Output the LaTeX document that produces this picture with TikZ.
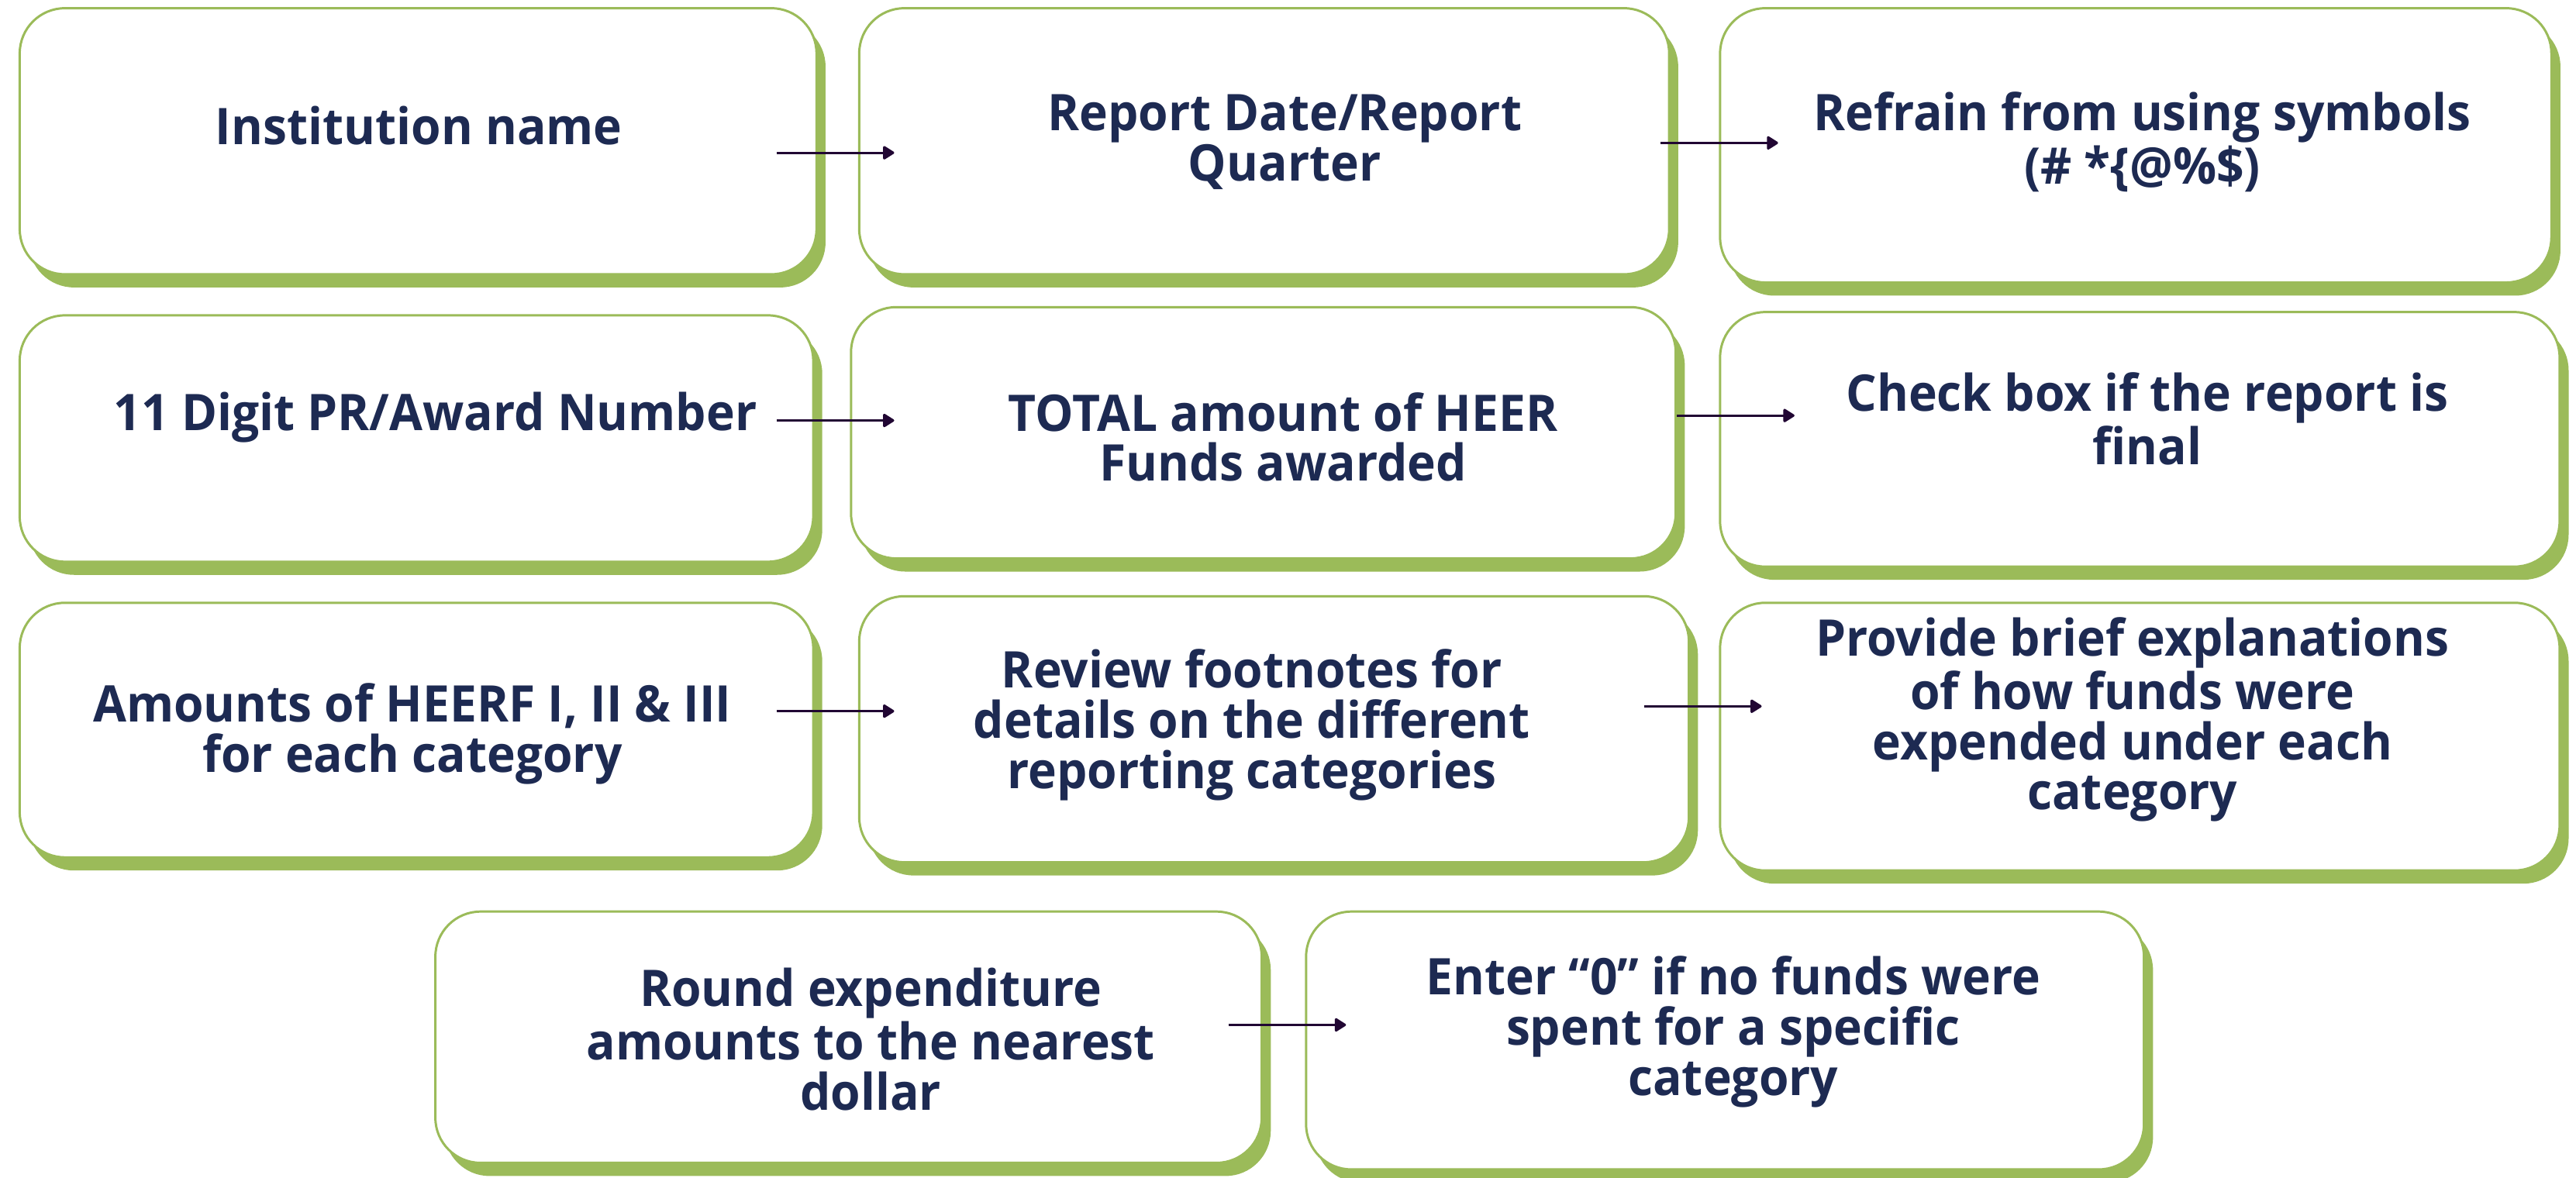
\documentclass[tikz,border=0pt]{standalone}
\usepackage{fontspec}
\setmainfont{Open Sans}[FakeStretch=0.956]
\usetikzlibrary{arrows.meta}
\usetikzlibrary{shadows}
\definecolor{leaf}{RGB}{155,187,89}
\definecolor{navy}{RGB}{29,42,82}
\definecolor{plum}{RGB}{33,6,51}

\begin{document}
\begin{tikzpicture}[x=0.02cm, y=-0.02cm,
	box/.style 2 args={rectangle, rounded corners=0.55cm, draw=leaf, line width=0.8pt, fill=white, inner sep=0pt, minimum width=#1*0.02cm, minimum height=#2*0.02cm, general shadow={fill=leaf, shadow xshift=0.11cm, shadow yshift=-0.16cm}},
	txt/.style={align=center, anchor=base, inner sep=0pt, text=navy, font=\bfseries\fontsize{17.5}{17.4}\selectfont},
	link/.style={-{Triangle[length=0.15cm, width=0.18cm, round]}, draw=plum, line width=0.85pt}]
	\useasboundingbox (0,0) rectangle (1568,717);
	%Row 1
	\node [box={485}{162}] (inst) at (254.5,86) {};
	\node [box={493}{162}] (date) at (769.5,86) {};
	\node [box={506}{167}] (symb) at (1300,88.5) {};
	\node [txt] (inst-t) at (255,88) {Institution name};
	\node [txt] (date-t) at (782,110) {Report Date/Report\\Quarter};
	\node [txt] (symb-t) at (1304,112) {Refrain from using symbols\\(\# *\{@\%\$)};
	%Row 2
	\node [box={483}{150}] (award) at (253.5,267) {};
	\node [box={502}{153}] (total) at (769,263.5) {};
	\node [box={511}{155}] (final) at (1302.5,267.5) {};
	\node [txt] (award-t) at (265,262) {11 Digit PR/Award Number};
	\node [txt] (total-t) at (781,293) {TOTAL amount of HEER\\Funds awarded};
	\node [txt] (final-t) at (1307,283) {Check box if the report is\\final};
	%Row 3
	\node [box={483}{155}] (amts) at (253.5,444.5) {};
	\node [box={505}{162}] (notes) at (775.5,444) {};
	\node [box={511}{163}] (expl) at (1302.5,448.5) {};
	\node [txt] (amts-t) at (251,470) {Amounts of HEERF I, II \& III\\for each category};
	\node [txt] (notes-t) at (762,480) {Review footnotes for\\details on the different\\reporting categories};
	\node [txt] (expl-t) at (1298,493) {Provide brief explanations\\of how funds were\\expended under each\\category};
	%Row 4
	\node [box={503}{153}] (round) at (516.5,631.5) {};
	\node [box={510}{157}] (zero) at (1050,633.5) {};
	\node [txt] (round-t) at (530,676) {Round expenditure\\amounts to the nearest\\dollar};
	\node [txt] (zero-t) at (1055,667) {Enter “0” if no funds were\\spent for a specific\\category};
	%Arrows
	\draw [link] ([shift={(-25,7)}]inst.east) -- ([shift={(22,7)}]date.west);
	\draw [link] ([shift={(-6,1)}]date.east) -- ([shift={(36,-1.5)}]symb.west);
	\draw [link] ([shift={(-23,-11)}]award.east) -- ([shift={(27,-7.5)}]total.west);
	\draw [link] ([shift={(0,-10.5)}]total.east) -- ([shift={(46,-14.5)}]final.west);
	\draw [link] ([shift={(-23,-11.5)}]amts.east) -- ([shift={(22,-11)}]notes.west);
	\draw [link] ([shift={(-28,-14)}]notes.east) -- ([shift={(26,-18.5)}]expl.west);
	\draw [link] ([shift={(-21,-7.5)}]round.east) -- ([shift={(25,-9.5)}]zero.west);
\end{tikzpicture}
\end{document}
